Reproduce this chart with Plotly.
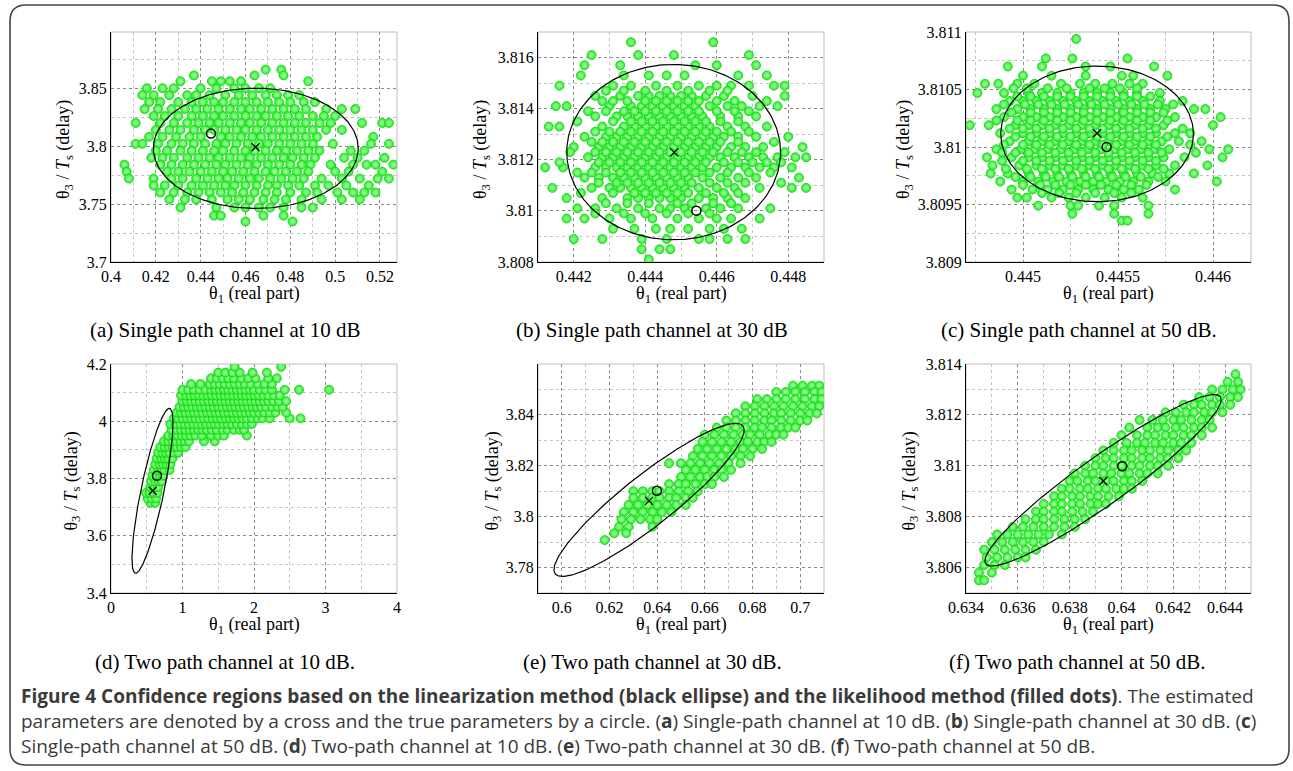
import numpy as np
import plotly.graph_objects as go

W, H = 1293, 771

# ---------------- data: likelihood clouds (rows of y with x positions) ----------------
A_ROW_Y = [3.866, 3.861, 3.856, 3.850, 3.844, 3.838, 3.832, 3.826, 3.820, 3.814, 3.808, 3.802,
           3.796, 3.790, 3.784, 3.778, 3.772, 3.766, 3.760, 3.754, 3.747, 3.740, 3.735]
A_ROW_X = [
    [0.469, 0.476],
    [0.437, 0.464, 0.477],
    [0.431, 0.445, 0.449, 0.453, 0.458, 0.488],
    [0.416, 0.423, 0.428, 0.440, 0.447, 0.455, 0.460, 0.466, 0.471],
    [0.414, 0.419, 0.426, 0.434, 0.438, 0.444, 0.451, 0.457, 0.463, 0.469, 0.474, 0.479, 0.484],
    [0.417, 0.422, 0.430, 0.436, 0.441, 0.446, 0.450, 0.455, 0.460, 0.465, 0.470, 0.475, 0.480, 0.486, 0.491],
    [0.415, 0.421, 0.427, 0.433, 0.438, 0.443, 0.448, 0.453, 0.458, 0.462, 0.467, 0.472, 0.477, 0.482, 0.487, 0.496, 0.503, 0.509],
    [0.419, 0.424, 0.430, 0.436, 0.441, 0.446, 0.450, 0.455, 0.460, 0.465, 0.469, 0.474, 0.479, 0.484, 0.490, 0.495, 0.500],
    [0.411, 0.422, 0.428, 0.434, 0.439, 0.444, 0.448, 0.453, 0.458, 0.462, 0.467, 0.472, 0.477, 0.482, 0.487, 0.493, 0.498, 0.512, 0.521, 0.524],
    [0.420, 0.426, 0.431, 0.437, 0.442, 0.446, 0.451, 0.456, 0.460, 0.465, 0.470, 0.475, 0.480, 0.485, 0.490, 0.496, 0.503],
    [0.417, 0.423, 0.429, 0.435, 0.440, 0.449, 0.453, 0.458, 0.463, 0.467, 0.472, 0.477, 0.482, 0.487, 0.492, 0.517],
    [0.411, 0.414, 0.421, 0.427, 0.432, 0.437, 0.442, 0.447, 0.451, 0.456, 0.461, 0.466, 0.470, 0.475, 0.480, 0.485, 0.490, 0.499, 0.516, 0.524],
    [0.420, 0.425, 0.431, 0.436, 0.441, 0.446, 0.450, 0.455, 0.460, 0.464, 0.469, 0.474, 0.478, 0.483, 0.488, 0.493, 0.507, 0.513],
    [0.418, 0.423, 0.428, 0.434, 0.439, 0.444, 0.448, 0.453, 0.458, 0.462, 0.467, 0.472, 0.477, 0.481, 0.486, 0.491, 0.504, 0.510, 0.522],
    [0.406, 0.422, 0.427, 0.432, 0.437, 0.442, 0.447, 0.451, 0.456, 0.461, 0.465, 0.470, 0.475, 0.480, 0.485, 0.489, 0.498, 0.508, 0.514, 0.518, 0.526],
    [0.407, 0.425, 0.430, 0.435, 0.440, 0.445, 0.450, 0.454, 0.459, 0.464, 0.469, 0.473, 0.478, 0.483, 0.488, 0.500, 0.506, 0.521],
    [0.408, 0.419, 0.427, 0.432, 0.438, 0.443, 0.448, 0.452, 0.457, 0.462, 0.466, 0.471, 0.476, 0.481, 0.486, 0.494, 0.503, 0.511, 0.519, 0.524],
    [0.419, 0.424, 0.430, 0.436, 0.441, 0.446, 0.451, 0.455, 0.460, 0.465, 0.470, 0.474, 0.479, 0.484, 0.491, 0.497, 0.505, 0.515],
    [0.422, 0.428, 0.434, 0.439, 0.444, 0.449, 0.454, 0.459, 0.464, 0.469, 0.474, 0.480, 0.487, 0.492, 0.501, 0.508, 0.513, 0.518],
    [0.426, 0.433, 0.438, 0.445, 0.452, 0.457, 0.462, 0.468, 0.473, 0.478, 0.485, 0.494, 0.503, 0.511],
    [0.431, 0.447, 0.455, 0.460, 0.466, 0.471, 0.477, 0.485, 0.490],
    [0.446, 0.449, 0.468, 0.477],
    [0.460, 0.481],
]

B_ROW_Y = [3.8166, 3.8161, 3.8157, 3.8153, 3.8149, 3.8145, 3.8141, 3.8137, 3.8133, 3.8129, 3.8125,
           3.8121, 3.8117, 3.8113, 3.8109, 3.8105, 3.8101, 3.8097, 3.8093, 3.8089, 3.8085, 3.8081,
           3.8147, 3.8143, 3.8139, 3.8135, 3.8131, 3.8127, 3.8123, 3.8119, 3.8115, 3.8111, 3.8107,
           3.8103, 3.8099]
B_ROW_X = [
    [0.4436, 0.4459],
    [0.4425, 0.4438, 0.4448, 0.4469],
    [0.4423, 0.4433, 0.4454, 0.4460, 0.4471],
    [0.4422, 0.4434, 0.4441, 0.4446, 0.4451, 0.4466, 0.4474],
    [0.4416, 0.4431, 0.4436, 0.4443, 0.4449, 0.4455, 0.4460, 0.4464, 0.4469, 0.4476, 0.4479],
    [0.4426, 0.4433, 0.4438, 0.4441, 0.4444, 0.4447, 0.4450, 0.4453, 0.4457, 0.4462, 0.4470, 0.4479],
    [0.4415, 0.4418, 0.4430, 0.4436, 0.4439, 0.4442, 0.4445, 0.4448, 0.4451, 0.4454, 0.4458, 0.4463, 0.4467, 0.4472, 0.4477],
    [0.4426, 0.4432, 0.4435, 0.4438, 0.4441, 0.4444, 0.4447, 0.4450, 0.4453, 0.4456, 0.4461, 0.4466, 0.4471],
    [0.4413, 0.4416, 0.4428, 0.4434, 0.4437, 0.4440, 0.4443, 0.4446, 0.4449, 0.4452, 0.4455, 0.4458, 0.4463, 0.4468, 0.4474],
    [0.4423, 0.4429, 0.4432, 0.4435, 0.4438, 0.4441, 0.4444, 0.4447, 0.4450, 0.4453, 0.4456, 0.4459, 0.4462, 0.4466, 0.4471, 0.4480],
    [0.4420, 0.4427, 0.4430, 0.4433, 0.4436, 0.4439, 0.4442, 0.4445, 0.4448, 0.4451, 0.4454, 0.4457, 0.4460, 0.4464, 0.4468, 0.4473, 0.4484],
    [0.4424, 0.4428, 0.4431, 0.4434, 0.4437, 0.4440, 0.4443, 0.4446, 0.4449, 0.4452, 0.4455, 0.4458, 0.4461, 0.4465, 0.4469, 0.4473, 0.4477, 0.4482, 0.4485],
    [0.4412, 0.4417, 0.4426, 0.4429, 0.4432, 0.4435, 0.4438, 0.4441, 0.4444, 0.4447, 0.4450, 0.4453, 0.4456, 0.4460, 0.4464, 0.4468, 0.4472, 0.4476, 0.4481],
    [0.4423, 0.4427, 0.4431, 0.4434, 0.4437, 0.4440, 0.4443, 0.4446, 0.4449, 0.4452, 0.4456, 0.4461, 0.4466, 0.4471, 0.4483],
    [0.4414, 0.4425, 0.4430, 0.4433, 0.4436, 0.4439, 0.4442, 0.4445, 0.4448, 0.4451, 0.4455, 0.4460, 0.4465, 0.4472, 0.4481, 0.4485],
    [0.4418, 0.4428, 0.4435, 0.4438, 0.4441, 0.4444, 0.4447, 0.4450, 0.4455, 0.4459, 0.4463, 0.4468],
    [0.4421, 0.4426, 0.4432, 0.4438, 0.4444, 0.4447, 0.4451, 0.4457, 0.4461, 0.4466, 0.4475],
    [0.4418, 0.4423, 0.4430, 0.4436, 0.4442, 0.4449, 0.4455, 0.4460, 0.4464, 0.4472],
    [0.4431, 0.4437, 0.4443, 0.4447, 0.4452, 0.4458, 0.4462, 0.4467],
    [0.4420, 0.4428, 0.4439, 0.4446, 0.4455, 0.4458, 0.4463, 0.4468],
    [0.4439, 0.4444, 0.4447],
    [0.4441],
    [0.4429, 0.4434, 0.4440, 0.4446, 0.4452, 0.4458, 0.4463],
    [0.4428, 0.4431, 0.4435, 0.4440, 0.4443, 0.4446, 0.4449, 0.4452, 0.4455, 0.4460, 0.4465, 0.4474],
    [0.4424, 0.4429, 0.4434, 0.4437, 0.4440, 0.4443, 0.4446, 0.4449, 0.4452, 0.4455, 0.4460, 0.4465, 0.4469],
    [0.4421, 0.4431, 0.4436, 0.4439, 0.4442, 0.4445, 0.4448, 0.4451, 0.4454, 0.4457, 0.4461, 0.4466],
    [0.4426, 0.4430, 0.4433, 0.4436, 0.4439, 0.4442, 0.4445, 0.4448, 0.4451, 0.4454, 0.4457, 0.4460, 0.4464, 0.4469],
    [0.4425, 0.4428, 0.4431, 0.4434, 0.4437, 0.4440, 0.4443, 0.4446, 0.4449, 0.4452, 0.4455, 0.4458, 0.4461, 0.4466, 0.4476],
    [0.4419, 0.4426, 0.4429, 0.4432, 0.4435, 0.4438, 0.4441, 0.4444, 0.4447, 0.4450, 0.4453, 0.4456, 0.4459, 0.4463, 0.4467, 0.4471, 0.4479],
    [0.4416, 0.4427, 0.4430, 0.4433, 0.4436, 0.4439, 0.4442, 0.4445, 0.4448, 0.4451, 0.4454, 0.4457, 0.4462, 0.4466, 0.4470, 0.4474, 0.4478],
    [0.4421, 0.4425, 0.4429, 0.4433, 0.4436, 0.4439, 0.4442, 0.4445, 0.4448, 0.4451, 0.4454, 0.4458, 0.4463, 0.4469, 0.4475],
    [0.4427, 0.4432, 0.4435, 0.4438, 0.4441, 0.4444, 0.4447, 0.4450, 0.4453, 0.4458, 0.4463, 0.4468, 0.4478],
    [0.4422, 0.4431, 0.4437, 0.4440, 0.4443, 0.4446, 0.4449, 0.4452, 0.4457, 0.4462, 0.4466],
    [0.4429, 0.4435, 0.4441, 0.4449, 0.4453, 0.4459, 0.4464],
    [0.4426, 0.4434, 0.4440, 0.4446, 0.4452, 0.4458],
]

C_ROW_Y = [3.81094, 3.81077, 3.81070, 3.81062, 3.81055, 3.81047, 3.81040, 3.81033, 3.81026, 3.81019,
           3.81012, 3.81005, 3.80998, 3.80991, 3.80984, 3.80977, 3.80970, 3.80963, 3.80956,
           3.80949, 3.80942, 3.80936,
           3.81051, 3.81044, 3.81037, 3.81030, 3.81023, 3.81016, 3.81009, 3.81002, 3.80995,
           3.80988, 3.80981, 3.80974, 3.80967, 3.80960]
C_ROW_X = [
    [0.44528],
    [0.44512, 0.44526, 0.44555],
    [0.44492, 0.44510, 0.44533, 0.44546, 0.44569],
    [0.44500, 0.44515, 0.44533, 0.44552, 0.44558, 0.44576],
    [0.44480, 0.44487, 0.44497, 0.44506, 0.44520, 0.44530, 0.44538, 0.44547, 0.44556, 0.44563],
    [0.44476, 0.44490, 0.44503, 0.44510, 0.44518, 0.44525, 0.44532, 0.44539, 0.44546, 0.44553, 0.44560, 0.44572],
    [0.44493, 0.44500, 0.44507, 0.44514, 0.44521, 0.44528, 0.44535, 0.44542, 0.44549, 0.44556, 0.44563, 0.44572, 0.44584],
    [0.44486, 0.44497, 0.44504, 0.44511, 0.44518, 0.44525, 0.44532, 0.44539, 0.44546, 0.44553, 0.44560, 0.44567, 0.44575, 0.44590, 0.44596],
    [0.44490, 0.44500, 0.44507, 0.44514, 0.44521, 0.44528, 0.44535, 0.44542, 0.44549, 0.44556, 0.44563, 0.44570, 0.44580, 0.44604],
    [0.44472, 0.44482, 0.44496, 0.44503, 0.44510, 0.44517, 0.44524, 0.44531, 0.44538, 0.44545, 0.44552, 0.44559, 0.44566, 0.44574, 0.44600],
    [0.44488, 0.44500, 0.44507, 0.44514, 0.44521, 0.44528, 0.44535, 0.44542, 0.44549, 0.44556, 0.44563, 0.44570, 0.44580, 0.44588],
    [0.44493, 0.44503, 0.44510, 0.44517, 0.44524, 0.44531, 0.44538, 0.44545, 0.44552, 0.44559, 0.44566, 0.44573, 0.44582, 0.44594],
    [0.44486, 0.44499, 0.44506, 0.44513, 0.44520, 0.44527, 0.44534, 0.44541, 0.44548, 0.44555, 0.44562, 0.44569, 0.44577, 0.44598, 0.44608],
    [0.44481, 0.44494, 0.44503, 0.44510, 0.44517, 0.44524, 0.44531, 0.44538, 0.44545, 0.44552, 0.44559, 0.44566, 0.44574, 0.44585, 0.44605],
    [0.44484, 0.44498, 0.44507, 0.44514, 0.44521, 0.44528, 0.44535, 0.44542, 0.44549, 0.44556, 0.44563, 0.44570, 0.44580, 0.44597],
    [0.44483, 0.44492, 0.44503, 0.44511, 0.44518, 0.44525, 0.44532, 0.44539, 0.44546, 0.44553, 0.44560, 0.44568, 0.44577, 0.44590],
    [0.44488, 0.44500, 0.44508, 0.44516, 0.44523, 0.44530, 0.44537, 0.44544, 0.44551, 0.44558, 0.44566, 0.44575, 0.44602],
    [0.44494, 0.44505, 0.44513, 0.44521, 0.44529, 0.44537, 0.44545, 0.44553, 0.44561, 0.44580],
    [0.44497, 0.44502, 0.44515, 0.44524, 0.44533, 0.44543, 0.44552, 0.44563],
    [0.44508, 0.44525, 0.44529, 0.44540, 0.44548, 0.44566],
    [0.44526, 0.44548, 0.44566],
    [0.44552, 0.44555],
    [0.44495, 0.44502, 0.44513, 0.44523, 0.44535, 0.44543, 0.44551, 0.44560],
    [0.44497, 0.44504, 0.44511, 0.44518, 0.44525, 0.44532, 0.44539, 0.44546, 0.44553, 0.44560, 0.44567],
    [0.44490, 0.44501, 0.44508, 0.44515, 0.44522, 0.44529, 0.44536, 0.44543, 0.44550, 0.44557, 0.44564, 0.44571, 0.44579],
    [0.44494, 0.44504, 0.44511, 0.44518, 0.44525, 0.44532, 0.44539, 0.44546, 0.44553, 0.44560, 0.44567, 0.44574],
    [0.44486, 0.44497, 0.44504, 0.44511, 0.44518, 0.44525, 0.44532, 0.44539, 0.44546, 0.44553, 0.44560, 0.44567, 0.44576],
    [0.44493, 0.44500, 0.44507, 0.44514, 0.44521, 0.44528, 0.44535, 0.44542, 0.44549, 0.44556, 0.44563, 0.44570, 0.44584],
    [0.44496, 0.44504, 0.44511, 0.44518, 0.44525, 0.44532, 0.44539, 0.44546, 0.44553, 0.44560, 0.44567, 0.44576],
    [0.44490, 0.44500, 0.44507, 0.44514, 0.44521, 0.44528, 0.44535, 0.44542, 0.44549, 0.44556, 0.44563, 0.44570, 0.44588],
    [0.44489, 0.44496, 0.44503, 0.44510, 0.44517, 0.44524, 0.44531, 0.44538, 0.44545, 0.44552, 0.44559, 0.44566, 0.44573, 0.44591],
    [0.44489, 0.44500, 0.44507, 0.44514, 0.44521, 0.44528, 0.44535, 0.44542, 0.44549, 0.44556, 0.44563, 0.44570],
    [0.44491, 0.44502, 0.44510, 0.44517, 0.44524, 0.44531, 0.44538, 0.44545, 0.44552, 0.44559, 0.44566, 0.44574],
    [0.44496, 0.44504, 0.44512, 0.44519, 0.44526, 0.44533, 0.44540, 0.44547, 0.44554, 0.44562, 0.44571],
    [0.44500, 0.44509, 0.44517, 0.44525, 0.44533, 0.44541, 0.44549, 0.44557, 0.44565],
    [0.44510, 0.44519, 0.44528, 0.44538, 0.44548, 0.44557],
]

D_ROW_Y = [3.715, 3.73, 3.75, 3.77, 3.79, 3.81, 3.83, 3.85, 3.87, 3.89, 3.91, 3.93, 3.95, 3.97,
           3.99, 4.01, 4.03, 4.05, 4.07, 4.09, 4.11, 4.13, 4.15, 4.17, 4.19]
D_ROW_X = [
    [0.55, 0.62],
    [0.51, 0.57, 0.63],
    [0.49, 0.54, 0.60, 0.65],
    [0.55, 0.61, 0.66],
    [0.56, 0.62, 0.67, 0.71],
    [0.58, 0.64, 0.69, 0.73],
    [0.60, 0.66, 0.71, 0.75, 0.82],
    [0.62, 0.68, 0.73, 0.78, 0.83],
    [0.64, 0.70, 0.75, 0.80, 0.86],
    [0.66, 0.72, 0.77, 0.82, 0.88, 0.94],
    [0.69, 0.75, 0.81, 0.86, 0.92, 0.98, 1.04],
    [0.74, 0.80, 0.86, 0.91, 0.97, 1.03, 1.09, 1.30, 1.45],
    [0.80, 0.87, 0.93, 0.99, 1.05, 1.11, 1.18, 1.27, 1.40, 1.50, 1.58, 1.90],
    [0.85, 0.92, 0.98, 1.04, 1.10, 1.16, 1.22, 1.28, 1.34, 1.41, 1.48, 1.56, 1.63, 1.72, 1.80, 1.86],
    [0.83, 0.90, 0.97, 1.03, 1.09, 1.15, 1.21, 1.27, 1.33, 1.39, 1.45, 1.51, 1.57, 1.63, 1.69, 1.76, 1.83, 1.90, 1.97],
    [0.88, 0.94, 1.00, 1.06, 1.12, 1.18, 1.24, 1.30, 1.36, 1.42, 1.48, 1.54, 1.60, 1.66, 1.72, 1.78, 1.84, 1.90, 1.97, 2.05, 2.12, 2.22, 2.50, 2.65],
    [0.92, 0.98, 1.04, 1.10, 1.16, 1.22, 1.28, 1.34, 1.40, 1.46, 1.52, 1.58, 1.64, 1.70, 1.76, 1.82, 1.88, 1.94, 2.00, 2.07, 2.14, 2.22, 2.30, 2.45],
    [0.96, 1.02, 1.08, 1.14, 1.20, 1.26, 1.32, 1.38, 1.44, 1.50, 1.56, 1.62, 1.68, 1.74, 1.80, 1.86, 1.92, 1.98, 2.04, 2.10, 2.17, 2.25, 2.33, 2.40],
    [1.00, 1.06, 1.12, 1.18, 1.24, 1.30, 1.36, 1.42, 1.48, 1.54, 1.60, 1.66, 1.72, 1.78, 1.84, 1.90, 1.96, 2.02, 2.08, 2.14, 2.20, 2.27, 2.35, 2.45],
    [0.98, 1.05, 1.11, 1.17, 1.23, 1.29, 1.35, 1.41, 1.47, 1.53, 1.59, 1.65, 1.71, 1.77, 1.83, 1.89, 1.95, 2.01, 2.07, 2.13, 2.20, 2.28, 2.36],
    [1.00, 1.08, 1.16, 1.24, 1.32, 1.40, 1.46, 1.52, 1.58, 1.64, 1.70, 1.76, 1.82, 1.88, 1.94, 2.00, 2.08, 2.16, 2.25, 2.43, 2.63, 3.05],
    [1.12, 1.25, 1.38, 1.45, 1.52, 1.59, 1.66, 1.73, 1.80, 1.87, 1.95, 2.05, 2.15, 2.25],
    [1.40, 1.48, 1.56, 1.64, 1.72, 1.82, 1.92, 2.02, 2.20, 2.32],
    [1.50, 1.60, 1.70, 1.80, 1.98, 2.18],
    [1.73, 2.38],
]

E_ROW_Y = [3.8515, 3.8490, 3.8462, 3.8434, 3.8406, 3.8378, 3.8350, 3.8322, 3.8294, 3.8266, 3.8238,
           3.8210, 3.8184, 3.8156, 3.8128, 3.8100, 3.8074, 3.8046, 3.8018, 3.7990, 3.7960, 3.7935, 3.7908]
E_ROW_X = [
    [0.697, 0.701, 0.705, 0.708],
    [0.690, 0.694, 0.698, 0.702, 0.706, 0.709],
    [0.682, 0.686, 0.690, 0.694, 0.698, 0.702, 0.706, 0.709],
    [0.677, 0.681, 0.685, 0.689, 0.693, 0.697, 0.701, 0.705, 0.708],
    [0.673, 0.677, 0.681, 0.685, 0.689, 0.692, 0.696, 0.700, 0.704, 0.707],
    [0.669, 0.673, 0.677, 0.681, 0.685, 0.688, 0.692, 0.696, 0.700, 0.703],
    [0.665, 0.669, 0.673, 0.677, 0.681, 0.684, 0.688, 0.692, 0.695, 0.698],
    [0.660, 0.664, 0.668, 0.672, 0.676, 0.679, 0.683, 0.687, 0.690, 0.693],
    [0.659, 0.663, 0.667, 0.671, 0.675, 0.678, 0.682, 0.685, 0.688],
    [0.657, 0.661, 0.665, 0.669, 0.673, 0.676, 0.680, 0.684],
    [0.655, 0.659, 0.663, 0.667, 0.671, 0.675, 0.679],
    [0.645, 0.650, 0.654, 0.658, 0.662, 0.666, 0.670, 0.675],
    [0.652, 0.656, 0.660, 0.664, 0.667, 0.671],
    [0.650, 0.654, 0.658, 0.661, 0.664, 0.668],
    [0.645, 0.649, 0.652, 0.656, 0.660, 0.663],
    [0.630, 0.634, 0.638, 0.641, 0.645, 0.649, 0.653, 0.657],
    [0.630, 0.634, 0.638, 0.641, 0.645, 0.648, 0.652, 0.655],
    [0.628, 0.632, 0.636, 0.640, 0.644, 0.648, 0.652],
    [0.626, 0.630, 0.634, 0.638, 0.642, 0.646],
    [0.625, 0.629, 0.633, 0.637, 0.640],
    [0.624, 0.628, 0.638],
    [0.622, 0.627],
    [0.618],
]

F_ROW_Y = [3.8136, 3.8133, 3.8130, 3.8127, 3.8124, 3.8121, 3.8118, 3.8115, 3.8112, 3.8109, 3.8106,
           3.8103, 3.8100, 3.8097, 3.8094, 3.8091, 3.8088, 3.8085, 3.8082, 3.8079, 3.8076, 3.8073,
           3.8070, 3.8067, 3.8064, 3.8061, 3.8058, 3.8055]
F_ROW_X = [
    [0.6444],
    [0.6441, 0.6445],
    [0.6435, 0.6439, 0.6443, 0.6446],
    [0.6430, 0.6434, 0.6438, 0.6442, 0.6445],
    [0.6424, 0.6428, 0.6431, 0.6435, 0.6438, 0.6442],
    [0.6417, 0.6421, 0.6425, 0.6428, 0.6432, 0.6435, 0.6439],
    [0.6407, 0.6412, 0.6416, 0.6420, 0.6423, 0.6427, 0.6431, 0.6434],
    [0.6403, 0.6410, 0.6414, 0.6417, 0.6421, 0.6424, 0.6428, 0.6431, 0.6435],
    [0.6400, 0.6406, 0.6410, 0.6413, 0.6417, 0.6420, 0.6424, 0.6427, 0.6431],
    [0.6397, 0.6402, 0.6406, 0.6409, 0.6413, 0.6416, 0.6420, 0.6423, 0.6427],
    [0.6393, 0.6397, 0.6401, 0.6404, 0.6408, 0.6411, 0.6415, 0.6418, 0.6422, 0.6425],
    [0.6390, 0.6394, 0.6397, 0.6401, 0.6404, 0.6408, 0.6411, 0.6415, 0.6418, 0.6422],
    [0.6386, 0.6390, 0.6393, 0.6397, 0.6400, 0.6404, 0.6407, 0.6411, 0.6414, 0.6418],
    [0.6382, 0.6386, 0.6389, 0.6393, 0.6396, 0.6400, 0.6403, 0.6407, 0.6410, 0.6414],
    [0.6380, 0.6383, 0.6387, 0.6390, 0.6394, 0.6397, 0.6401, 0.6404, 0.6408],
    [0.6377, 0.6380, 0.6384, 0.6387, 0.6391, 0.6394, 0.6398, 0.6401, 0.6404],
    [0.6374, 0.6377, 0.6381, 0.6384, 0.6388, 0.6391, 0.6395, 0.6399],
    [0.6370, 0.6374, 0.6377, 0.6381, 0.6384, 0.6388, 0.6391, 0.6394],
    [0.6367, 0.6370, 0.6374, 0.6377, 0.6381, 0.6385, 0.6389],
    [0.6363, 0.6367, 0.6370, 0.6374, 0.6378, 0.6382, 0.6386],
    [0.6358, 0.6362, 0.6366, 0.6370, 0.6374, 0.6378, 0.6382],
    [0.6352, 0.6356, 0.6360, 0.6364, 0.6368, 0.6372, 0.6377],
    [0.6350, 0.6354, 0.6358, 0.6362, 0.6366, 0.6370],
    [0.6347, 0.6351, 0.6355, 0.6359, 0.6363, 0.6367],
    [0.6348, 0.6352, 0.6356, 0.6360, 0.6363],
    [0.6347, 0.6351, 0.6355],
    [0.6345, 0.6350],
    [0.6345, 0.6347],
]

# estimated parameters (cross) and true parameters (circle)
EST_X = [0.4645, 0.44481, 0.44539, 0.583, 0.6366, 0.6393]
EST_Y = [3.7991, 3.81229, 3.81012, 3.757, 3.8062, 3.8094]
TRUE_X = [0.4446, 0.44543, 0.44544, 0.643, 0.6399, 0.64003]
TRUE_Y = [3.8108, 3.81001, 3.81000, 3.810, 3.8102, 3.80998]

# linearization confidence ellipses: centre, half-extent in x / y, correlation
ELL_CX = [0.4646, 0.444795, 0.44539, 0.580, 0.6366, 0.63929]
ELL_CY = [3.7981, 3.8123, 3.810114, 3.757, 3.8066, 3.80943]
ELL_SX = [0.0457, 0.00299, 0.000507, 0.287, 0.0399, 0.00456]
ELL_SY = [0.0519, 0.00343, 0.00059, 0.288, 0.0301, 0.00337]
ELL_RHO = [0.0, 0.0, 0.0, 0.82, 0.91, 0.94]

# axes
X_RANGES = [[0.4, 0.5276], [0.441, 0.449], [0.4447, 0.4462], [0, 4], [0.59, 0.71], [0.634, 0.645]]
Y_RANGES = [[3.7, 3.8985], [3.808, 3.817], [3.809, 3.811], [3.4, 4.2], [3.77, 3.86], [3.805, 3.814]]
X_TICKS = [[0.4, 0.42, 0.44, 0.46, 0.48, 0.5, 0.52], [0.442, 0.444, 0.446, 0.448], [0.445, 0.4455, 0.446],
           [0, 1, 2, 3, 4], [0.6, 0.62, 0.64, 0.66, 0.68, 0.7], [0.634, 0.636, 0.638, 0.64, 0.642, 0.644]]
X_LABELS = [["0.4", "0.42", "0.44", "0.46", "0.48", "0.5", "0.52"], ["0.442", "0.444", "0.446", "0.448"],
            ["0.445", "0.4455", "0.446"], ["0", "1", "2", "3", "4"],
            ["0.6", "0.62", "0.64", "0.66", "0.68", "0.7"],
            ["0.634", "0.636", "0.638", "0.64", "0.642", "0.644"]]
Y_TICKS = [[3.7, 3.75, 3.8, 3.85], [3.808, 3.81, 3.812, 3.814, 3.816], [3.809, 3.8095, 3.81, 3.8105, 3.811],
           [3.4, 3.6, 3.8, 4, 4.2], [3.78, 3.8, 3.82, 3.84], [3.806, 3.808, 3.81, 3.812, 3.814]]
Y_LABELS = [["3.7", "3.75", "3.8", "3.85"], ["3.808", "3.81", "3.812", "3.814", "3.816"],
            ["3.809", "3.8095", "3.81", "3.8105", "3.811"], ["3.4", "3.6", "3.8", "4", "4.2"],
            ["3.78", "3.8", "3.82", "3.84"], ["3.806", "3.808", "3.81", "3.812", "3.814"]]
X_MINOR = [0.01, 0.001, 0.00025, 0.5, 0.01, 0.001]
Y_MINOR = [0.025, 0.001, 0.00025, 0.1, 0.01, 0.001]

X_TITLE = "θ<sub>1</sub> (real part)"
Y_TITLE = "θ<sub>3</sub> / <i>T</i><sub>s</sub> (delay)"
SUB_CAPTIONS = ["(a) Single path channel at 10 dB", "(b) Single path channel at 30 dB",
                "(c) Single path channel at 50 dB.", "(d) Two path channel at 10 dB.",
                "(e) Two path channel at 30 dB.", "(f) Two path channel at 50 dB."]
CAPTION_LINES = [
    "<b>Figure 4 Confidence regions based on the linearization method (black ellipse) and the likelihood method (filled dots)</b>. The estimated",
    "parameters are denoted by a cross and the true parameters by a circle. (<b>a</b>) Single-path channel at 10 dB. (<b>b</b>) Single-path channel at 30 dB. (<b>c</b>)",
    "Single-path channel at 50 dB. (<b>d</b>) Two-path channel at 10 dB. (<b>e</b>) Two-path channel at 30 dB. (<b>f</b>) Two-path channel at 50 dB.",
]

ROWS_Y = [A_ROW_Y, B_ROW_Y, C_ROW_Y, D_ROW_Y, E_ROW_Y, F_ROW_Y]
ROWS_X = [A_ROW_X, B_ROW_X, C_ROW_X, D_ROW_X, E_ROW_X, F_ROW_X]

# ---------------- layout geometry (pixels) ----------------
BOXES = [(111, 32, 397, 262), (538, 32, 824, 262), (966, 32, 1251, 262),
         (111, 364, 397, 593), (538, 364, 824, 593), (966, 364, 1251, 593)]
YTITLE_X = [65, 482, 905, 72, 493, 910]
CAP_POS = [(225, 330), (652, 330), (1079, 330), (225, 662), (653, 662), (1077, 662)]

SERIF = "Liberation Serif"
SANS = "Open Sans"
GREEN = "#22ee22"

fig = go.Figure()
layout = dict(width=W, height=H, margin=dict(l=0, r=0, t=0, b=0, autoexpand=False), autosize=False,
              font=dict(family=SERIF, size=16, color="black"),
              paper_bgcolor="white", plot_bgcolor="white", showlegend=False,
              shapes=[], annotations=[])

def minor_vals(r, d):
    start = np.ceil(r[0] / d - 1e-9) * d
    return [float(v) for v in np.arange(start, r[1] + d * 0.01, d)]

def axis(dom, anchor, rng, tv, tt, mv):
    return dict(domain=dom, anchor=anchor, range=rng, tickmode="array", tickvals=tv, ticktext=tt,
                automargin=False, showline=True, linecolor="black", linewidth=1, ticks="",
                zeroline=False, showgrid=True, gridcolor="#8a8a8a", griddash="dot", gridwidth=1,
                tickfont=dict(family=SERIF, size=16, color="black"),
                minor=dict(tickmode="array", tickvals=mv, showgrid=True, ticks="",
                           gridcolor="#c4c4c4", griddash="dot", gridwidth=1))

def note(text, xpx, ypx, size, angle=0, xanchor="center", family=SERIF, color="black"):
    return dict(text=text, x=xpx / W, y=1 - ypx / H, xref="paper", yref="paper", showarrow=False,
                xanchor=xanchor, yanchor="middle", align="left", textangle=angle,
                font=dict(family=family, size=size, color=color))

for i in range(6):
    n = "" if i == 0 else str(i + 1)
    xa, ya = "x" + n, "y" + n
    L, T, R, B = BOXES[i]
    xs = [x for row in ROWS_X[i] for x in row]
    ys = [y for y, row in zip(ROWS_Y[i], ROWS_X[i]) for _ in row]
    fig.add_trace(go.Scatter(x=xs, y=ys, mode="markers", xaxis=xa, yaxis=ya, hoverinfo="skip",
                             marker=dict(size=9, color=GREEN,
                                         gradient=dict(type="radial", color="#b6ffb6"),
                                         line=dict(width=0.8, color="#10d010"))))
    t = np.linspace(0, 2 * np.pi, 241)
    rho = ELL_RHO[i]
    ex = ELL_CX[i] + ELL_SX[i] * np.cos(t)
    ey = ELL_CY[i] + ELL_SY[i] * (rho * np.cos(t) + np.sqrt(1 - rho ** 2) * np.sin(t))
    fig.add_trace(go.Scatter(x=ex, y=ey, mode="lines", xaxis=xa, yaxis=ya, hoverinfo="skip",
                             line=dict(color="black", width=1.2)))
    fig.add_trace(go.Scatter(x=[EST_X[i]], y=[EST_Y[i]], mode="markers", xaxis=xa, yaxis=ya,
                             marker=dict(symbol="x-thin", size=8, line=dict(width=1.3, color="black"))))
    fig.add_trace(go.Scatter(x=[TRUE_X[i]], y=[TRUE_Y[i]], mode="markers", xaxis=xa, yaxis=ya,
                             marker=dict(symbol="circle-open", size=9, color="black",
                                         line=dict(width=1.5, color="black"))))

    layout["xaxis" + n] = axis([L / W, R / W], ya, X_RANGES[i], X_TICKS[i], X_LABELS[i],
                               minor_vals(X_RANGES[i], X_MINOR[i]))
    layout["yaxis" + n] = axis([1 - B / H, 1 - T / H], xa, Y_RANGES[i], Y_TICKS[i], Y_LABELS[i],
                               minor_vals(Y_RANGES[i], Y_MINOR[i]))
    layout["shapes"].append(dict(type="rect", xref="paper", yref="paper",
                                 x0=L / W, x1=R / W, y0=1 - B / H, y1=1 - T / H,
                                 line=dict(color="#bdbdbd", width=1), layer="below"))
    # axis titles
    layout["annotations"].append(note(X_TITLE, (L + R) / 2, B + 32, 18))
    layout["annotations"].append(note(Y_TITLE, YTITLE_X[i], (T + B) / 2 + 3, 18, angle=-90))
    cx, cy = CAP_POS[i]
    layout["annotations"].append(note(SUB_CAPTIONS[i], cx, cy, 21))

for line, yy in zip(CAPTION_LINES, [696, 721, 746]):
    layout["annotations"].append(note(line, 19, yy, 19, xanchor="left", family=SANS, color="#3a3a3a"))

# rounded outer border
x0, y0, x1, y1, r = 10, 5, 1289, 765, 16
def P(x, y):
    return f"{x / W:.6f},{1 - y / H:.6f}"
path = (f"M {P(x0 + r, y0)} L {P(x1 - r, y0)} Q {P(x1, y0)} {P(x1, y0 + r)} "
        f"L {P(x1, y1 - r)} Q {P(x1, y1)} {P(x1 - r, y1)} L {P(x0 + r, y1)} "
        f"Q {P(x0, y1)} {P(x0, y1 - r)} L {P(x0, y0 + r)} Q {P(x0, y0)} {P(x0 + r, y0)} Z")
layout["shapes"].append(dict(type="path", xref="paper", yref="paper", path=path,
                             line=dict(color="#444444", width=1.6)))

fig.update_layout(**layout)
fig.write_html("out.html")
